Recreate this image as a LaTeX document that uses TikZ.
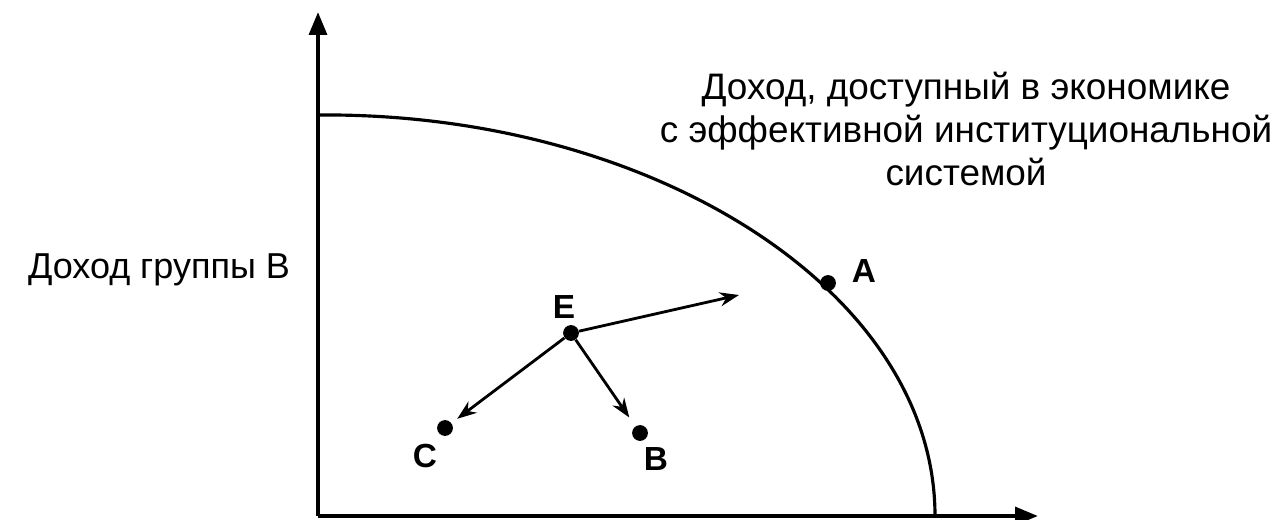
\documentclass[tikz,border=0pt]{standalone}
\usepackage{fontspec}
\setmainfont{Liberation Sans}
\usetikzlibrary{arrows.meta}

\begin{document}
\begin{tikzpicture}[x=0.02cm,y=-0.02cm,
    axisline/.style={line width=2.4pt,-{Triangle[length=13pt,width=10pt]}},
    moveline/.style={line width=1.6pt,-{Stealth[length=11pt,width=8pt]}},
    dot/.style={circle,fill=black,inner sep=0pt,minimum size=9pt},
    ptlabel/.style={font=\bfseries\fontsize{19}{22}\selectfont},
    txt/.style={font=\fontsize{21}{24.5}\selectfont,align=center}
  ]
  \useasboundingbox (0,0) rectangle (1280,520);

  % axes
  \coordinate (O) at (318,516);
  \coordinate (ytip) at (318,12);
  \coordinate (xtip) at (1038,516);
  \draw[axisline] (O) -- (ytip);
  \draw[axisline] (O) -- (xtip);

  % frontier of available income
  \draw[line width=1.8pt] (318,115) .. controls (650,112) and (935,290) .. (935,516);

  % points
  \node[dot] (A) at (828,283) {};
  \node[dot] (E) at (571,333) {};
  \node[dot] (C) at (445,428) {};
  \node[dot] (B) at (640,433) {};
  \coordinate (up) at (739,295);

  \node[ptlabel] (labA) at (864,271) {A};
  \node[ptlabel] (labE) at (564,307) {E};
  \node[ptlabel] (labC) at (425,456) {C};
  \node[ptlabel] (labB) at (656,459) {B};

  % moves away from E
  \draw[moveline] (E) -- (up);
  \draw[moveline,shorten >=4pt] (E) -- (C);
  \draw[moveline,shorten >=6pt] (E) -- (B);

  % texts
  \node[txt,font=\fontsize{20.5}{24}\selectfont] (ylabel) at (159,270) {Доход группы В};
  \node[txt] (frontier) at (966,129) {Доход, доступный в экономике\\с эффективной институциональной\\системой};
\end{tikzpicture}
\end{document}
